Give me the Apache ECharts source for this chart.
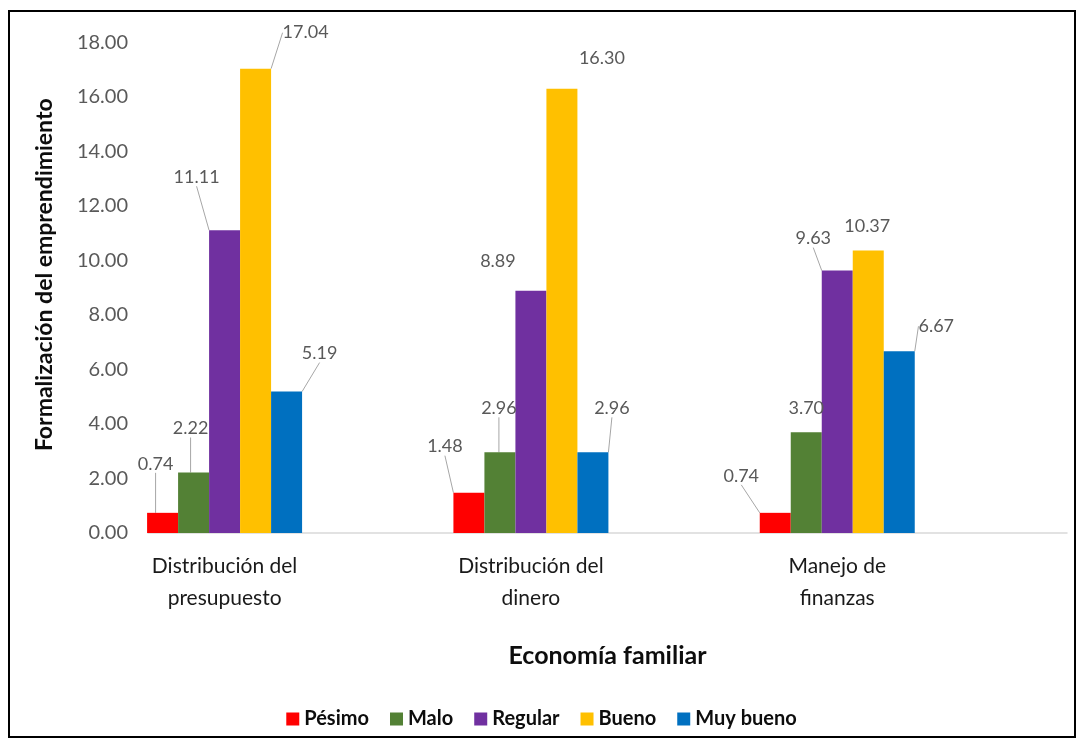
<!DOCTYPE html>
<html>
<head>
<meta charset="utf-8">
<script src="https://cdn.jsdelivr.net/npm/echarts@6/dist/echarts.min.js"></script>
<style>
  html, body { margin: 0; padding: 0; background: #fff; }
  #chart { position: absolute; left: 0; top: 0; width: 1083px; height: 747px; }
  #frame { position: absolute; left: 8px; top: 10px; width: 1064px; height: 724px; border: 2px solid #000; pointer-events: none; }
</style>
</head>
<body>
<div id="chart"></div>
<div id="frame"></div>
<script>
const categories = ['Distribución del\npresupuesto', 'Distribución del\ndinero', 'Manejo de\nfinanzas'];
const seriesNames = ['Pésimo', 'Malo', 'Regular', 'Bueno', 'Muy bueno'];
const pesimo   = [0.74, 1.48, 0.74];
const malo     = [2.22, 2.96, 3.70];
const regular  = [11.11, 8.89, 9.63];
const bueno    = [17.04, 16.30, 10.37];
const muyBueno = [5.19, 2.96, 6.67];
const yTicks = [0, 2, 4, 6, 8, 10, 12, 14, 16, 18];

const seriesValues = [pesimo, malo, regular, bueno, muyBueno];
const colors = ['#FF0000', '#538135', '#7030A0', '#FFC000', '#0070C0'];
// label offsets (dx, dy) from default 'top' position, per series / category
const labelOffsets = [
  [[-7, -35], [-24, -32], [-34, -23]],
  [[-3, -30], [-1, -30], [0, -10]],
  [[-28, -39], [-33, -16], [-24, -18]],
  [[50, -22], [40, -17], [-1, -10]],
  [[33, -24], [19, -30], [37, -11]]
];
const showLine = [
  [true, true, true],
  [true, true, false],
  [true, false, true],
  [true, false, false],
  [true, true, true]
];

const FONT = 'Lato';
const chart = echarts.init(document.getElementById('chart'));

const series = seriesValues.map((vals, si) => ({
  name: seriesNames[si],
  type: 'bar',
  barWidth: 31,
  barGap: '0%',
  itemStyle: { color: colors[si] },
  data: vals.map((v, ci) => ({
    value: [ci, v],
    labelLine: { show: showLine[si][ci], lineStyle: { color: '#a6a6a6', width: 1 } }
  })),
  label: {
    show: true,
    position: 'top',
    distance: 5,
    formatter: p => p.value[1].toFixed(2),
    color: '#595959',
    fontSize: 18,
    fontFamily: FONT
  },
  labelLine: { show: true, lineStyle: { color: '#a6a6a6', width: 1 } },
  labelLayout: params => {
    const o = labelOffsets[params.seriesIndex][params.dataIndex];
    return { dx: o[0], dy: o[1] };
  }
}));

chart.setOption({
  animation: false,
  textStyle: { fontFamily: FONT },
  grid: { left: 148, right: 16, top: 42.5, bottom: 214, containLabel: false },
  xAxis: {
    type: 'value',
    min: -0.25,
    max: 2.75,
    splitLine: { show: false },
    axisTick: { show: false },
    axisLine: { show: true, lineStyle: { color: '#d9d9d9', width: 1.5 } },
    axisLabel: {
      customValues: [0, 1, 2],
      formatter: v => categories[Math.round(v)],
      color: '#1a1a1a',
      fontSize: 21,
      lineHeight: 32,
      margin: 17,
      fontFamily: FONT
    },
    name: 'Economía familiar',
    nameLocation: 'middle',
    nameGap: 110,
    nameTextStyle: { color: '#0d0d0d', fontSize: 25, fontWeight: 'bold', fontFamily: FONT }
  },
  yAxis: {
    type: 'value',
    min: 0,
    max: 18,
    interval: 2,
    splitLine: { show: false },
    axisLine: { show: false },
    axisTick: { show: false },
    axisLabel: {
      customValues: yTicks,
      formatter: v => v.toFixed(2),
      color: '#595959',
      fontSize: 20,
      margin: 20,
      fontFamily: FONT
    },
    name: 'Formalización del emprendimiento',
    nameLocation: 'middle',
    nameGap: 92,
    nameTextStyle: { color: '#0d0d0d', fontSize: 23, fontWeight: 'bold', fontFamily: FONT, padding: [0, 0, 0, 26] }
  },
  legend: {
    data: seriesNames,
    left: 'center',
    top: 704,
    icon: 'rect',
    itemWidth: 13,
    itemHeight: 13,
    itemGap: 21,
    textStyle: { color: '#0d0d0d', fontSize: 20, fontWeight: 'bold', fontFamily: FONT }
  },
  series: series
});
</script>
</body>
</html>
